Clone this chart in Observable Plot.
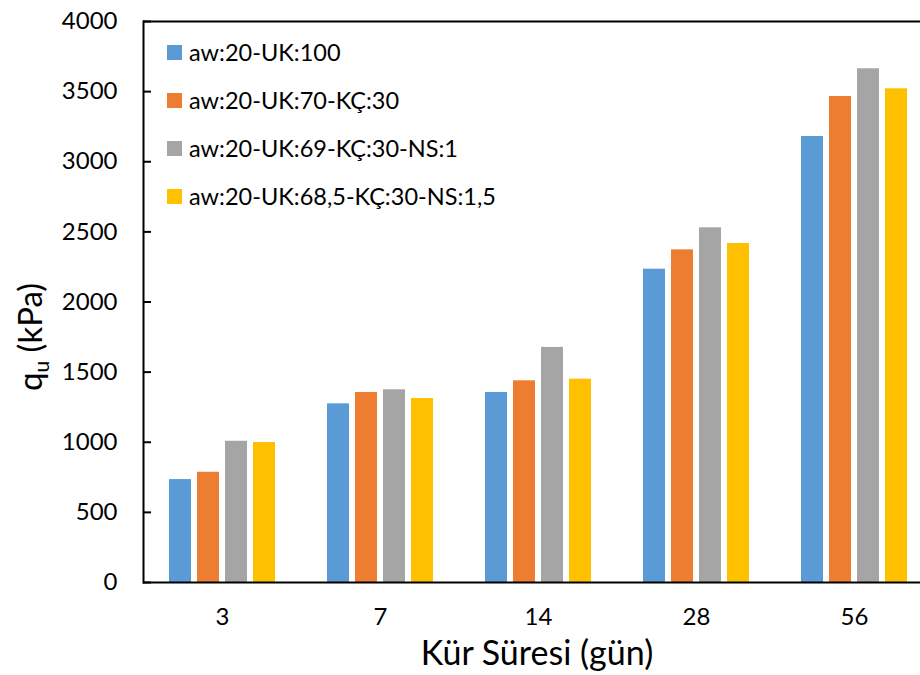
<!DOCTYPE html>
<html>
<head>
<meta charset="utf-8">
<script src="https://cdn.jsdelivr.net/npm/d3@7"></script>
<script src="https://cdn.jsdelivr.net/npm/@observablehq/plot@0.6"></script>
<style>
  html, body { margin: 0; padding: 0; background: #fff; overflow: hidden; }
  #wrap { position: relative; width: 920px; height: 675px; overflow: hidden; font-family: Lato, sans-serif; color: #000; }
  #wrap > svg { max-width: none !important; width: 933px; height: 675px; }
  #legend { position: absolute; left: 167px; top: 28px; }
  .row { height: 48px; display: flex; align-items: center; font-size: 23.5px; white-space: nowrap; }
  .sw { width: 15px; height: 15px; margin-right: 7px; display: inline-block; }
  #ylab { position: absolute; left: 29px; top: 337px; transform: translate(-50%, -50%) rotate(-90deg); font-size: 33px; white-space: nowrap; }
  #ylab sub { font-size: 21px; vertical-align: -7px; line-height: 0; }
  #xlab { position: absolute; left: 537px; top: 652px; transform: translate(-50%, -50%); font-size: 34px; line-height: 1.1; white-space: nowrap; }
</style>
</head>
<body>
<div id="wrap"></div>
<script>
const days = ["3", "7", "14", "28", "56"];
const seriesNames = [
  "aw:20-UK:100",
  "aw:20-UK:70-KÇ:30",
  "aw:20-UK:69-KÇ:30-NS:1",
  "aw:20-UK:68,5-KÇ:30-NS:1,5"
];
const colors = ["#5B9BD5", "#ED7D31", "#A5A5A5", "#FFC000"];
const s1 = [734, 1274, 1355, 2234, 3180];
const s2 = [786, 1355, 1438, 2372, 3465];
const s3 = [1007, 1374, 1676, 2529, 3663];
const s4 = [998, 1312, 1450, 2417, 3520];
const yTicks = [0, 500, 1000, 1500, 2000, 2500, 3000, 3500, 4000];
const xTitle = "Kür Süresi (gün)";

const seriesValues = [s1, s2, s3, s4];
const data = [];
days.forEach((d, i) => {
  seriesNames.forEach((s, j) => data.push({day: d, series: s, value: seriesValues[j][i]}));
});

const chart = Plot.plot({
  width: 933,
  height: 675,
  marginLeft: 143,
  marginRight: 0,
  marginTop: 21,
  marginBottom: 93,
  style: {fontFamily: "Lato, sans-serif", fontSize: "24px", color: "#000", background: "transparent"},
  fx: {domain: days, paddingInner: 0, paddingOuter: 0},
  x: {domain: seriesNames, paddingInner: 0.2, paddingOuter: 0.83, axis: null},
  y: {domain: [0, 4000]},
  color: {domain: seriesNames, range: colors},
  marks: [
    Plot.barY(data, {fx: "day", x: "series", y: "value", fill: "series"}),
    Plot.ruleY([0], {stroke: "#000", strokeWidth: 2}),
    Plot.ruleY([4000], {stroke: "#000", strokeWidth: 2}),
    Plot.frame({anchor: "left", facetAnchor: "left", stroke: "#000", strokeWidth: 2}),
    Plot.axisY({ticks: yTicks, tickSize: -8, tickPadding: 34, strokeWidth: 2, label: null, fontSize: 24, tickFormat: d => String(d)}),
    Plot.axisFx({anchor: "bottom", tickSize: 0, tickPadding: 25, label: null, fontSize: 24})
  ]
});

const wrap = document.getElementById("wrap");
wrap.appendChild(chart);

const legend = document.createElement("div");
legend.id = "legend";
seriesNames.forEach((s, i) => {
  const row = document.createElement("div");
  row.className = "row";
  const sw = document.createElement("span");
  sw.className = "sw";
  sw.style.background = colors[i];
  row.appendChild(sw);
  row.appendChild(document.createTextNode(s));
  legend.appendChild(row);
});
wrap.appendChild(legend);

const ylab = document.createElement("div");
ylab.id = "ylab";
ylab.innerHTML = "q<sub>u</sub> (kPa)";
wrap.appendChild(ylab);

const xlab = document.createElement("div");
xlab.id = "xlab";
xlab.textContent = xTitle;
wrap.appendChild(xlab);
</script>
</body>
</html>
